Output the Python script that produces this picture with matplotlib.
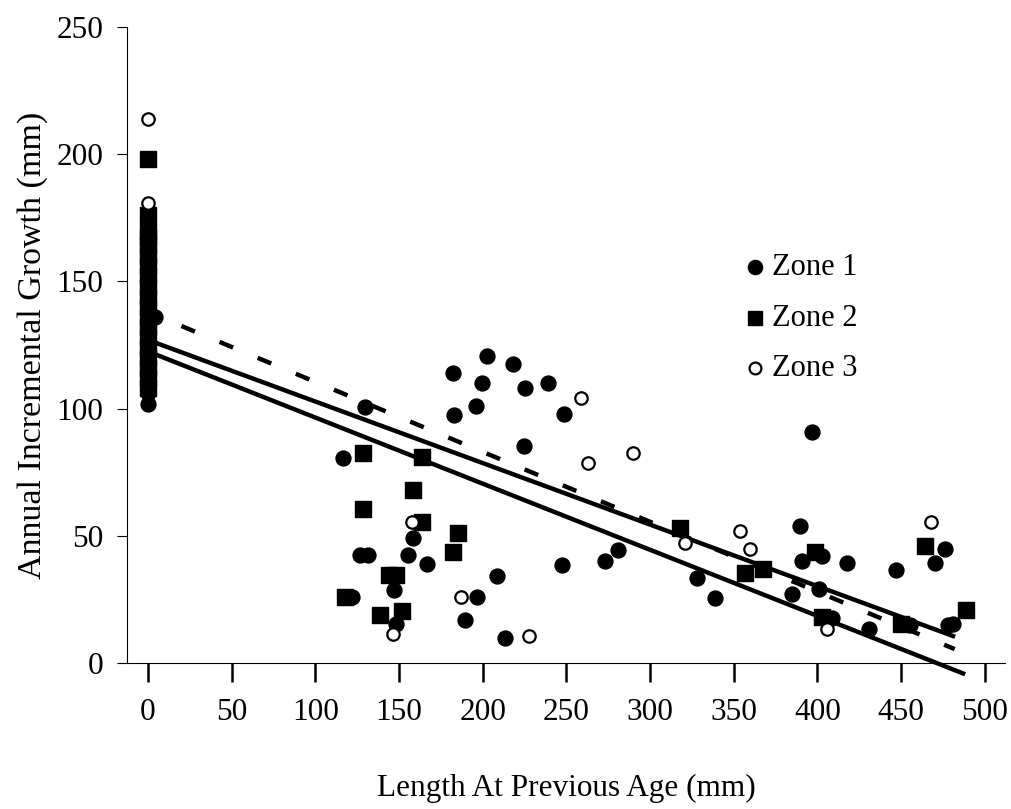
"""Annual incremental growth vs length at previous age, by zone."""
import matplotlib
matplotlib.use("Agg")
import matplotlib.pyplot as plt
import numpy as np

plt.rcParams["font.family"] = ["Liberation Serif", "DejaVu Serif"]

# Zone 1 (filled circles)
zone1_x = [0, 0, 0, 0, 0, 0, 0, 0, 0, 0, 0, 0, 0, 0, 0, 0, 4,
           116.5, 122, 129.5, 126.5, 131.5, 147, 148.5, 158.5, 155.5, 167,
           182, 183, 189.5, 196, 196.5, 199.5, 202.5, 208.5, 213.5, 218,
           225, 224.5, 239, 248.5, 247.5, 273, 281, 328, 338.5, 384.5,
           389.5, 390.5, 397, 402.5, 401, 408.5, 417.5, 431, 447, 455,
           470, 476, 478, 481]
zone1_y = [102, 106, 110, 114, 118, 122, 127, 131, 135, 140, 146, 152, 158, 164, 170, 175, 136,
           80.5, 26, 100.5, 42.5, 42.5, 28.5, 15.5, 49, 42.5, 39,
           114, 97.5, 17, 101, 26, 110, 120.5, 34, 10, 117.5,
           108, 85.5, 110, 98, 38.5, 40, 44.5, 33.5, 25.5, 27,
           54, 40, 91, 42, 29, 17.5, 39.5, 13.5, 36.5, 15,
           39.5, 45, 15, 15.5]

# Zone 2 (filled squares)
zone2_x = [0, 0, 0, 0, 0, 0, 0, 0, 0, 0, 0, 0, 0, 0, 0, 0, 0, 0, 0,
           118, 128.5, 128.5, 138.5, 144, 148, 151.5, 158.5, 163.5, 163.5,
           182, 185, 318, 356.5, 367.5, 398.5, 402.5, 450, 464, 489]
zone2_y = [108, 112, 116, 120, 124, 128, 132, 136, 140, 144, 148, 152, 156, 160, 164, 167, 170, 176, 198,
           26, 82.5, 60.5, 19, 34.5, 34.5, 20.5, 68, 81, 55.5,
           43.5, 51, 53, 35.5, 37, 43.5, 18, 15.5, 46, 21]

# Zone 3 (open circles)
zone3_x = [0, 0, 146.5, 157.5, 187, 227.5, 259, 263, 290, 321, 353.5,
           359.5, 406, 468]
zone3_y = [214, 181, 11.5, 55.5, 26, 10.5, 104, 78.5, 82.5, 47, 52,
           45, 13.5, 55.5]

# regression lines: intercept, slope, x start, x end
fit_upper = (127, -0.242, 0, 481)
fit_lower = (122.5, -0.26, 0, 487)
fit_dashed = (138, -0.275, 20, 482)


def draw_fit(ax, fit, **kw):
    b, m, x0, x1 = fit
    xs = np.array([x0, x1])
    ax.plot(xs, b + m * xs, color="black", clip_on=False, **kw)


fig = plt.figure(figsize=(10.12, 8.09), dpi=100)
ax = fig.add_axes([0.1255, 0.1805, 0.8675, 0.786])

ax.scatter(zone1_x, zone1_y, s=115, marker="o", color="black",
           label="Zone 1", zorder=3, clip_on=False)
ax.scatter(zone2_x, zone2_y, s=120, marker="s", color="black",
           label="Zone 2", zorder=3, clip_on=False)
ax.scatter(zone3_x, zone3_y, s=80, marker="o", facecolor="white",
           edgecolor="black", linewidths=1.6, label="Zone 3", zorder=4,
           clip_on=False)

draw_fit(ax, fit_upper, lw=3.2, zorder=2)
draw_fit(ax, fit_lower, lw=3.2, zorder=2)
draw_fit(ax, fit_dashed, lw=3.2, dashes=(3.3, 6.0), dash_capstyle="butt",
         zorder=2)

ax.set_xlim(-12.5, 512)
ax.set_ylim(0, 250)
ax.set_xticks(np.arange(0, 501, 50))
ax.set_yticks(np.arange(0, 251, 50))
ax.spines["top"].set_visible(False)
ax.spines["right"].set_visible(False)
ax.tick_params(axis="x", direction="out", length=14, width=1.8, pad=11,
               labelsize=22.5)
ax.tick_params(axis="y", direction="out", length=7, width=0.8, pad=10,
               labelsize=22.5)

ax.set_xlabel("Length At Previous Age (mm)", fontsize=22.5, labelpad=34)
ax.set_ylabel("Annual Incremental Growth (mm)", fontsize=24.5, labelpad=6)

ax.legend(loc="upper left", bbox_to_anchor=(0.689, 0.668), frameon=False,
          fontsize=22, markerscale=0.95, handlelength=0.5, handletextpad=0.3,
          labelspacing=0.7, borderpad=0)

fig.savefig("out.png", dpi=100)
